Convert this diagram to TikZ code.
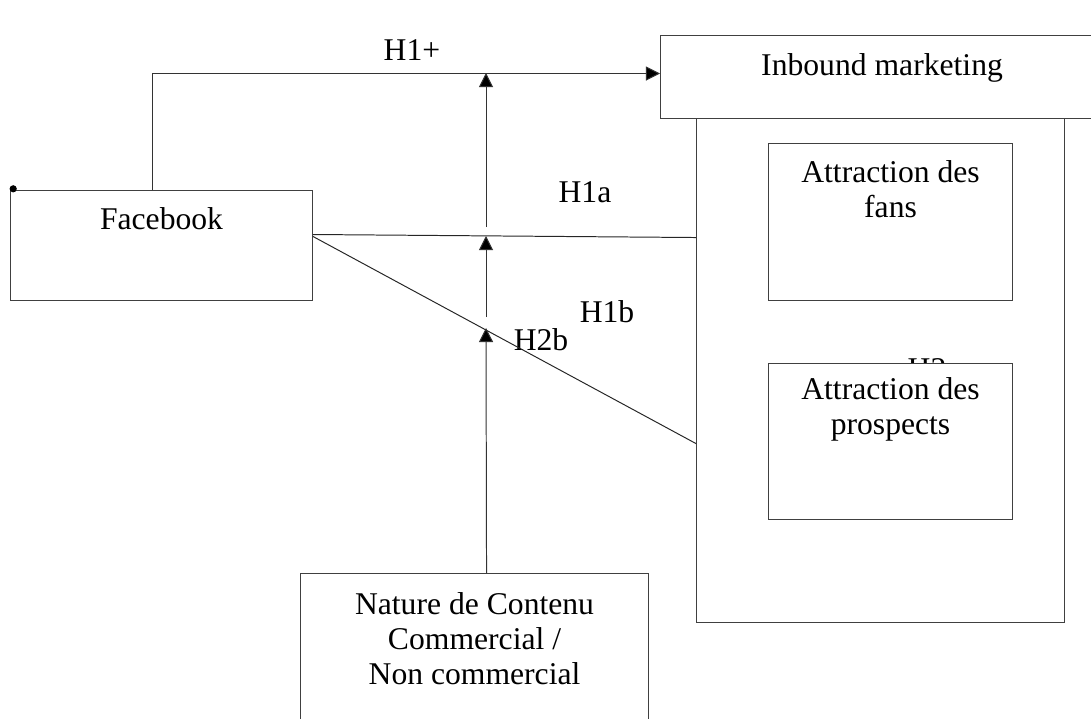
\documentclass[tikz,border=0pt]{standalone}
\usepackage{fontspec}
\setmainfont{Liberation Serif}
\usetikzlibrary{positioning, arrows.meta}

\begin{document}
\begin{tikzpicture}[
    x=0.025cm,
    y=-0.025cm,
    % -------------------------------------------------
    % Node styles
    % -------------------------------------------------
    box/.style={
        rectangle,
        draw=black!75,
        line width=0.7pt,
        fill=white,
        inner sep=0pt
    },
    boxtext/.style={
        font=\fontsize{22.5}{25}\selectfont,
        align=center,
        inner sep=0pt
    },
    hyplabel/.style={
        font=\fontsize{22.5}{25}\selectfont,
        inner sep=0pt
    },
    % -------------------------------------------------
    % Connections
    % -------------------------------------------------
    arrow/.style={
        -{Triangle[width=10pt,length=10pt,fill=black]},
        line width=0.7pt,
        draw=black!80
    },
    link/.style={
        line width=0.7pt,
        draw=black!85
    }
]

\useasboundingbox (0,0) rectangle (1091,718);
\clip (0,0) rectangle (1091,718);

% =====================================================
% Facebook
% =====================================================

\node[box, minimum width=7.55cm, minimum height=2.75cm,
      anchor=north west] (fb) at (10,190) {};
\node[boxtext, below=0.425cm of fb.north] (fbtext) {Facebook};
\fill ([xshift=0.08cm,yshift=0.03cm]fb.north west) circle (0.09cm);

% =====================================================
% Inbound marketing
% =====================================================

\node[box, minimum width=11cm, minimum height=2.075cm,
      anchor=north west] (inbound) at (660,35) {};
\node[boxtext, below=0.45cm of inbound.north west, xshift=5.55cm]
    (inboundtext) {Inbound marketing};

\node[box, minimum width=9.2cm, minimum height=12.6cm,
      anchor=north west] (outer) at (696,118) {};

\node[box, minimum width=6.1cm, minimum height=3.925cm,
      anchor=north west] (fans) at (768,143) {};
\node[boxtext, below=0.425cm of fans.north] (fanstext)
    {Attraction des\\fans};

\node[hyplabel, anchor=north] (htwo) at (927,358) {H2};

\node[box, minimum width=6.1cm, minimum height=3.9cm,
      anchor=north west] (prospects) at (768,363) {};
\node[boxtext, below=0.35cm of prospects.north] (prospectstext)
    {Attraction des\\prospects};

% =====================================================
% Nature de contenu
% =====================================================

\node[box, minimum width=8.7cm, minimum height=4.5cm,
      anchor=north west] (nature) at (300,573) {};
\node[boxtext, below=0.475cm of nature.north] (naturetext)
    {Nature de Contenu\\Commercial /\\ Non commercial};

% =====================================================
% Hypotheses
% =====================================================

\node[hyplabel] (hplus) at (412,50) {H1+};
\node[hyplabel] (honea) at (585,192) {H1a};
\node[hyplabel] (honeb) at (607,312) {H1b};
\node[hyplabel] (htwob) at (541,340) {H2b};

% =====================================================
% Facebook -> Inbound marketing
% =====================================================

\draw[arrow]
    ([xshift=-0.225cm]fb.north) |- ([yshift=0.0875cm]inbound.west);

\draw[link]
    ([yshift=0.275cm]fb.east) -- ([yshift=3.325cm]outer.west);

\draw[link]
    ([yshift=0.225cm]fb.east) -- ([yshift=-1.825cm]outer.west);

% =====================================================
% Moderation
% =====================================================

\coordinate (tipA) at (486,73);
\coordinate (tailA) at (486,227);
\coordinate (tipB) at (486,236);
\coordinate (tailB) at (486,317);
\coordinate (tipC) at (486,328);

\draw[arrow] (tailA) -- (tipA);
\draw[arrow] (tailB) -- (tipB);
\draw[arrow] ([xshift=0.3cm]nature.north) -- (tipC);

\end{tikzpicture}
\end{document}
